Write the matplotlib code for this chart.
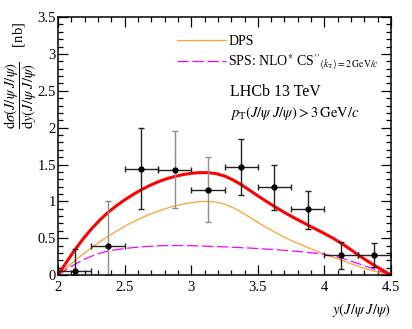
import matplotlib
matplotlib.use("Agg")
from matplotlib import pyplot as plt
from matplotlib.ticker import MultipleLocator
import numpy as np

plt.rcParams["font.family"] = ["Liberation Serif", "DejaVu Serif"]
plt.rcParams["mathtext.fontset"] = "stix"

# Данные: точки LHCb
y_data = [2.125, 2.375, 2.625, 2.875, 3.125, 3.375, 3.625, 3.875, 4.125, 4.375]
sig_data = [0.06, 0.40, 1.44, 1.42, 1.15, 1.47, 1.20, 0.89, 0.27, 0.27]
err_up = [0.30, 0.60, 0.56, 0.53, 0.45, 0.38, 0.30, 0.25, 0.18, 0.16]
err_dn = [0.06, 0.40, 0.55, 0.51, 0.43, 0.39, 0.32, 0.27, 0.19, 0.16]
half_bin = 0.125
bar_gray = [False, True, False, True, True, False, False, False, False, False]

# Теоретические кривые (DPS, SPS), шаг 0.0625
y_curve = [2.0, 2.0625, 2.125, 2.1875, 2.25, 2.3125, 2.375, 2.4375, 2.5, 2.5625,
           2.625, 2.6875, 2.75, 2.8125, 2.875, 2.9375, 3.0, 3.0625, 3.125, 3.1875,
           3.25, 3.3125, 3.375, 3.4375, 3.5, 3.5625, 3.625, 3.6875, 3.75, 3.8125,
           3.875, 3.9375, 4.0, 4.0625, 4.125, 4.1875, 4.25, 4.3125, 4.375, 4.4375, 4.5]
dps = [0.0, 0.10, 0.195, 0.285, 0.37, 0.45, 0.525, 0.595, 0.66, 0.72,
       0.775, 0.825, 0.868, 0.905, 0.937, 0.963, 0.982, 0.995, 1.0, 0.99,
       0.962, 0.915, 0.855, 0.785, 0.715, 0.648, 0.585, 0.525, 0.47, 0.42,
       0.372, 0.326, 0.283, 0.242, 0.202, 0.16, 0.12, 0.084, 0.052, 0.024, 0.0]
sps = [0.0, 0.075, 0.145, 0.205, 0.255, 0.295, 0.325, 0.345, 0.36, 0.372,
       0.382, 0.39, 0.396, 0.40, 0.40, 0.40, 0.398, 0.395, 0.39, 0.386,
       0.382, 0.377, 0.372, 0.366, 0.36, 0.353, 0.345, 0.337, 0.328, 0.318,
       0.307, 0.295, 0.28, 0.26, 0.232, 0.198, 0.158, 0.118, 0.08, 0.04, 0.0]
total = np.array(dps) + np.array(sps)

fig = plt.figure(figsize=(4.12, 3.29), dpi=100)
ax = fig.add_axes([0.141, 0.164, 0.808, 0.784])

ax.plot(y_curve, dps, color="#ffa033", lw=0.9, label="DPS")
ax.plot(y_curve, sps, color="#ff00ff", lw=0.9, dashes=(9, 3),
        label=r"SPS: NLO$^{*}$ CS$''_{\langle k_{\mathrm{T}}\rangle=2\,\mathrm{GeV}/c}$")
ax.plot(y_curve, total, color="#ff0000", lw=2.2)

# Точки с ошибками
for i in range(len(y_data)):
    col = "#8c8c8c" if bar_gray[i] else "#222222"
    ax.errorbar(y_data[i], sig_data[i], yerr=[[err_dn[i]], [err_up[i]]],
                fmt="none", ecolor=col, elinewidth=1.0, capsize=2.5, capthick=1.0)
    ax.errorbar(y_data[i], sig_data[i], xerr=half_bin,
                fmt="o", color="black", ms=3.5, ecolor="#222222",
                elinewidth=1.0, capsize=2.5, capthick=1.0)

ax.set_xlim(2, 4.5)
ax.set_ylim(0, 3.5)
ax.xaxis.set_minor_locator(MultipleLocator(0.1))
ax.yaxis.set_minor_locator(MultipleLocator(0.1))
ax.set_xticks([2, 2.5, 3, 3.5, 4, 4.5], ["2", "2.5", "3", "3.5", "4", "4.5"])
ax.set_yticks([0, 0.5, 1, 1.5, 2, 2.5, 3, 3.5], ["0", "0.5", "1", "1.5", "2", "2.5", "3", "3.5"])
ax.tick_params(which="both", direction="in", top=True, right=True, labelsize=10.5, width=0.9)
ax.tick_params(which="major", length=7)
ax.tick_params(which="minor", length=3.5)
ax.tick_params(axis="y", pad=1.5)
ax.tick_params(axis="x", pad=4)
for s in ax.spines.values():
    s.set_linewidth(1.1)

ax.set_xlabel(r"$y(J/\psi\;J/\psi)$", fontsize=10.5, loc="right", labelpad=5)
fig.text(0.05, 0.935,
         r"$\dfrac{\mathrm{d}\sigma(J/\psi\;J/\psi)}{\mathrm{d}y(J/\psi\;J/\psi)}$    [nb]",
         rotation=90, ha="center", va="top", fontsize=10.5)

ax.legend(loc="upper left", bbox_to_anchor=(0.357, 0.93), frameon=False,
          fontsize=10, handlelength=3.5, handletextpad=0.2, labelspacing=0.3,
          borderpad=0, borderaxespad=0)
ax.text(0.517, 0.71, "LHCb 13 TeV", transform=ax.transAxes, fontsize=11.5, va="center")
ax.text(0.517, 0.627, r"$p_{\mathrm{T}}(J/\psi\;J/\psi) > 3\,\mathrm{GeV}/c$",
        transform=ax.transAxes, fontsize=10.5, va="center")

plt.savefig("out.png", dpi=100)
